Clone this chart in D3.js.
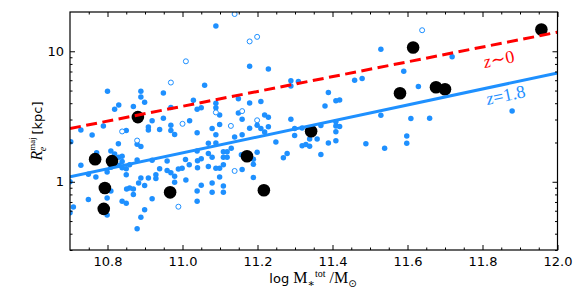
<!DOCTYPE html>
<html>
<head>
<meta charset="utf-8">
<script src="https://cdn.jsdelivr.net/npm/d3@7"></script>
<style>
  body { margin: 0; background: #fff; }
  svg { display: block; }
</style>
</head>
<body>
<div id="chart"></div>
<script>
// log stellar mass vs. major-axis effective radius (kpc)
const massTicks = [10.8, 11.0, 11.2, 11.4, 11.6, 11.8, 12.0];
const massMinorTicks = [10.75, 10.85, 10.9, 10.95, 11.05, 11.1, 11.15, 11.25, 11.3, 11.35,
  11.45, 11.5, 11.55, 11.65, 11.7, 11.75, 11.85, 11.9, 11.95];
const reTicks = [1, 10];
const reMinorTicks = [0.3, 0.4, 0.5, 0.6, 0.7, 0.8, 0.9, 2, 3, 4, 5, 6, 7, 8, 9];

// filled blue points [mass, Re]
const filledBlue = [
  [11.089, 15.6], [10.800, 4.94], [10.889, 4.94], [10.889, 4.47], [10.949, 4.80], [11.059, 5.50],
  [11.179, 7.68], [11.229, 7.32], [11.289, 5.95], [11.289, 5.43], [11.309, 5.87], [11.459, 6.00],
  [11.479, 6.19], [11.389, 4.84], [11.529, 10.36], [11.719, 9.08], [11.590, 7.03], [11.629, 5.38],
  [11.149, 4.32], [10.899, 4.07], [10.830, 3.88], [10.819, 3.60], [10.869, 3.78], [10.969, 3.71],
  [11.029, 4.22], [11.039, 3.60], [11.050, 3.70], [11.089, 3.99], [11.089, 3.70], [11.099, 3.25],
  [10.919, 2.93], [10.949, 3.07], [11.019, 2.93], [10.789, 2.67], [10.729, 2.49], [10.850, 2.47],
  [10.909, 2.63], [10.909, 2.49], [10.939, 2.52], [10.969, 2.71], [10.969, 2.47], [11.079, 2.56],
  [11.099, 2.75], [11.179, 4.01], [11.209, 4.13], [11.409, 4.17], [11.419, 4.24], [11.380, 3.81],
  [11.149, 3.37], [11.159, 3.01], [11.219, 3.25], [11.229, 3.12], [11.289, 3.01], [11.529, 3.23],
  [11.179, 2.57], [11.199, 2.71], [11.209, 2.56], [11.229, 2.64], [11.299, 2.56], [11.319, 2.58],
  [11.369, 2.70], [11.409, 2.88], [11.409, 2.67], [11.419, 2.65], [11.609, 3.06], [11.659, 3.07],
  [11.879, 3.48], [11.039, 2.38], [11.409, 2.42], [11.219, 2.41], [10.759, 2.28], [10.979, 2.30],
  [11.089, 2.29], [11.139, 2.20], [11.159, 2.29], [11.249, 2.02], [11.299, 2.26], [11.319, 1.89],
  [11.329, 1.93], [11.339, 1.87], [11.339, 2.13], [11.359, 2.13], [11.389, 1.98], [11.409, 2.06],
  [11.489, 1.96], [11.539, 1.81], [11.598, 2.24], [11.598, 1.97], [10.829, 1.96], [10.889, 1.86],
  [10.879, 1.94], [10.702, 2.03], [11.069, 1.97], [11.089, 1.98], [11.130, 1.81], [10.809, 1.72],
  [10.771, 1.67], [10.819, 1.63], [10.839, 1.57], [10.830, 1.54], [10.839, 1.43], [10.831, 1.34],
  [10.839, 1.28], [10.850, 1.26], [10.859, 1.35], [10.879, 1.47], [10.729, 1.34], [10.749, 1.14],
  [10.769, 1.09], [10.809, 1.29], [10.799, 1.19], [10.850, 1.13], [10.889, 1.07], [10.909, 1.07],
  [10.919, 1.46], [10.939, 1.26], [10.959, 1.44], [10.959, 1.22], [10.969, 1.17], [10.979, 1.10],
  [10.979, 0.99], [10.989, 1.25], [10.999, 1.27], [11.008, 1.48], [11.018, 1.35], [11.009, 1.03],
  [11.039, 1.72], [11.050, 1.50], [11.040, 1.45], [11.069, 1.65], [11.109, 1.70], [11.119, 1.70],
  [11.109, 1.54], [11.119, 1.54], [11.079, 1.54], [11.109, 1.35], [11.069, 1.31], [11.089, 1.27],
  [11.099, 1.27], [11.040, 1.28], [11.189, 1.36], [11.199, 1.68], [11.189, 1.49], [11.159, 1.24],
  [11.189, 1.08], [11.099, 1.09], [11.269, 1.53], [11.279, 1.65], [11.369, 1.62], [11.157, 1.61],
  [10.929, 1.13], [10.929, 1.06], [11.109, 0.93], [11.109, 0.83], [11.079, 0.98], [11.079, 0.83],
  [11.050, 0.94], [11.039, 0.85], [11.039, 0.71], [10.899, 0.935], [10.883, 0.98], [10.869, 0.88],
  [10.859, 0.895], [10.851, 0.88], [10.869, 0.80], [10.839, 0.71], [10.850, 0.685], [10.919, 0.74],
  [10.899, 0.61], [10.889, 0.535], [10.879, 0.437], [10.749, 0.73], [10.709, 0.64], [10.700, 0.58],
  [10.799, 0.75], [10.799, 0.556], [10.809, 0.85], [10.700, 1.00]
];

// open blue points [mass, Re]
const openBlue = [
  [11.009, 8.38], [10.969, 5.76], [11.089, 3.40], [11.000, 2.78], [11.129, 2.68], [10.839, 2.43],
  [10.879, 2.07], [11.139, 19.3], [11.179, 11.9], [11.199, 12.9], [11.159, 3.48], [11.199, 2.96],
  [11.639, 14.5], [10.989, 0.644], [11.139, 1.21]
];

// black points [mass, Re]
const blackPts = [
  [10.767, 1.49], [10.812, 1.44], [10.793, 0.895], [10.790, 0.62], [10.881, 3.13], [10.967, 0.83],
  [11.172, 1.57], [11.217, 0.86], [11.343, 2.44], [11.615, 10.7], [11.580, 4.77], [11.676, 5.30],
  [11.700, 5.12], [11.957, 14.7]
];

// size-mass relations
const relationMass = [10.7, 12.0];
const relationZ0 = [2.56, 14.0];
const relationZ18 = [1.09, 6.82];

const width = 581;
const height = 291;
const margin = { top: 12, right: 23.5, bottom: 41, left: 70 };
const blue = "#1e90ff";

const svg = d3.select("#chart")
  .append("svg")
  .attr("width", width)
  .attr("height", height);

const x = d3.scaleLinear()
  .domain([10.7, 12.0])
  .range([margin.left, width - margin.right]);

const y = d3.scaleLog()
  .domain([0.3, 20])
  .range([height - margin.bottom, margin.top]);

svg.append("clipPath").attr("id", "plot")
  .append("rect")
  .attr("x", margin.left).attr("y", margin.top)
  .attr("width", width - margin.left - margin.right)
  .attr("height", height - margin.top - margin.bottom);

const plot = svg.append("g").attr("clip-path", "url(#plot)");

// points
plot.selectAll(".filled")
  .data(filledBlue)
  .enter()
  .append("circle")
  .attr("cx", d => x(d[0]))
  .attr("cy", d => y(d[1]))
  .attr("r", 2.75)
  .attr("fill", blue);

plot.selectAll(".open")
  .data(openBlue)
  .enter()
  .append("circle")
  .attr("cx", d => x(d[0]))
  .attr("cy", d => y(d[1]))
  .attr("r", 2.5)
  .attr("fill", "#fff")
  .attr("stroke", blue)
  .attr("stroke-width", 1);

plot.selectAll(".black")
  .data(blackPts)
  .enter()
  .append("circle")
  .attr("cx", d => x(d[0]))
  .attr("cy", d => y(d[1]))
  .attr("r", 6.3)
  .attr("fill", "#000");

// relations
const line = d3.line()
  .x(d => x(d[0]))
  .y(d => y(d[1]));

plot.append("path")
  .datum(d3.zip(relationMass, relationZ18))
  .attr("d", line)
  .attr("fill", "none")
  .attr("stroke", blue)
  .attr("stroke-width", 3);

plot.append("path")
  .datum(d3.zip(relationMass, relationZ0))
  .attr("d", line)
  .attr("fill", "none")
  .attr("stroke", "#ff0000")
  .attr("stroke-width", 3)
  .attr("stroke-dasharray", "11,5.5");

// axes with inward ticks
const bottom = height - margin.bottom;
const right = width - margin.right;

function styleAxis(g) {
  g.select(".domain").remove();
  g.selectAll(".tick line").attr("stroke", "#000");
  g.selectAll(".tick text")
    .attr("fill", "#000")
    .style("font-family", "'DejaVu Sans', sans-serif")
    .style("font-size", "13px");
}

svg.append("g")
  .attr("transform", `translate(0, ${bottom})`)
  .call(d3.axisBottom(x).tickValues(massTicks).tickFormat(d3.format(".1f"))
    .tickSize(-5).tickPadding(7))
  .call(styleAxis);
svg.append("g")
  .attr("transform", `translate(0, ${bottom})`)
  .call(d3.axisBottom(x).tickValues(massMinorTicks).tickFormat("").tickSize(-2.5))
  .call(styleAxis);
svg.append("g")
  .attr("transform", `translate(0, ${margin.top})`)
  .call(d3.axisTop(x).tickValues(massTicks).tickFormat("").tickSize(-5))
  .call(styleAxis);
svg.append("g")
  .attr("transform", `translate(0, ${margin.top})`)
  .call(d3.axisTop(x).tickValues(massMinorTicks).tickFormat("").tickSize(-2.5))
  .call(styleAxis);

svg.append("g")
  .attr("transform", `translate(${margin.left}, 0)`)
  .call(d3.axisLeft(y).tickValues(reTicks).tickFormat(d3.format("d"))
    .tickSize(-5).tickPadding(6))
  .call(styleAxis);
svg.append("g")
  .attr("transform", `translate(${margin.left}, 0)`)
  .call(d3.axisLeft(y).tickValues(reMinorTicks).tickFormat("").tickSize(-2.5))
  .call(styleAxis);
svg.append("g")
  .attr("transform", `translate(${right}, 0)`)
  .call(d3.axisRight(y).tickValues(reTicks).tickFormat("").tickSize(-5))
  .call(styleAxis);
svg.append("g")
  .attr("transform", `translate(${right}, 0)`)
  .call(d3.axisRight(y).tickValues(reMinorTicks).tickFormat("").tickSize(-2.5))
  .call(styleAxis);

// frame
svg.append("rect")
  .attr("x", margin.left)
  .attr("y", margin.top)
  .attr("width", right - margin.left)
  .attr("height", bottom - margin.top)
  .attr("fill", "none")
  .attr("stroke", "#000")
  .attr("stroke-width", 1.2);

// x label: superscript and subscript side by side, no overlap
const serif = "'Liberation Serif', 'DejaVu Serif', serif";
const xLab = svg.append("text")
  .attr("x", 313)
  .attr("y", 283)
  .attr("text-anchor", "middle")
  .attr("fill", "#000");
xLab.append("tspan").text("log ")
  .style("font-family", "'DejaVu Sans', sans-serif").style("font-size", "13px");
xLab.append("tspan").text("M")
  .style("font-family", serif).style("font-size", "16px");
xLab.append("tspan").text("∗")
  .attr("dy", 4)
  .style("font-family", serif).style("font-size", "11px");
xLab.append("tspan").text("tot")
  .attr("dy", -10)
  .style("font-family", serif).style("font-size", "10px");
xLab.append("tspan").text(" /M")
  .attr("dy", 6)
  .style("font-family", serif).style("font-size", "16px");
xLab.append("tspan").text("⊙")
  .attr("dy", 4)
  .style("font-family", "'DejaVu Sans', sans-serif").style("font-size", "10px");

// y label
const yLab = svg.append("text")
  .attr("transform", "translate(42, 131) rotate(-90)")
  .attr("text-anchor", "middle")
  .attr("fill", "#000");
yLab.append("tspan").text("R")
  .style("font-family", serif).style("font-style", "italic").style("font-size", "16px");
yLab.append("tspan").text("maj")
  .attr("dy", -7)
  .style("font-family", serif).style("font-size", "9px");
yLab.append("tspan").text("e")
  .attr("dx", -14).attr("dy", 11)
  .style("font-family", serif).style("font-style", "italic").style("font-size", "10px");
yLab.append("tspan").text(" [kpc]")
  .attr("dx", 8).attr("dy", -4)
  .style("font-family", "'DejaVu Sans', sans-serif").style("font-size", "13px");

// relation labels
function relLabel(tx, ty, angle, color, parts) {
  const t = svg.append("text")
    .attr("transform", `translate(${tx}, ${ty}) rotate(${angle})`)
    .attr("text-anchor", "middle")
    .attr("fill", color)
    .style("font-family", serif)
    .style("font-size", "18px");
  parts.forEach(p => {
    t.append("tspan").text(p[0]).style("font-style", p[1] ? "italic" : "normal");
  });
}
relLabel(500, 65, -11, "#ff0000", [["z", true], ["∼0", false]]);
relLabel(507, 101, -12, blue, [["z", true], ["=1.8", false]]);
</script>
</body>
</html>
